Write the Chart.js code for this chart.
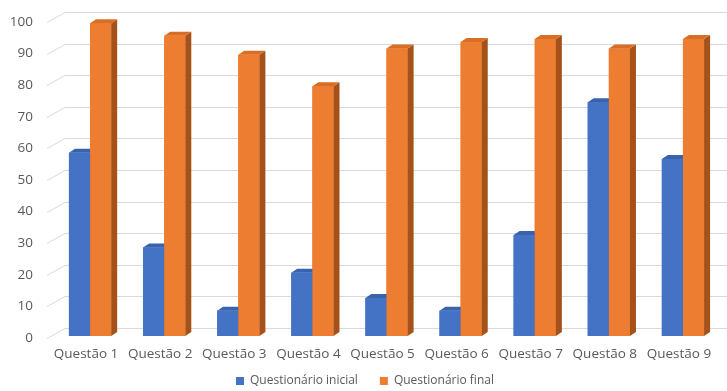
<!DOCTYPE html>
<html>
<head>
<meta charset="utf-8">
<script src="https://cdn.jsdelivr.net/npm/chart.js@4/dist/chart.umd.min.js"></script>
<style>
  html, body { margin: 0; padding: 0; background: #fff; }
  #wrap { width: 727px; height: 391px; }
</style>
</head>
<body>
<div id="wrap"><canvas id="chart" width="727" height="391"></canvas></div>
<script>
const categories = ["Questão 1", "Questão 2", "Questão 3", "Questão 4", "Questão 5", "Questão 6", "Questão 7", "Questão 8", "Questão 9"];
const inicial = [58, 28, 8, 20, 12, 8, 32, 74, 56];
const final = [99, 95, 89, 79, 91, 93, 94, 91, 94];
const seriesNames = ["Questionário inicial", "Questionário final"];

const FONT = "'Open Sans', sans-serif";
const TEXT = "#595959";

// shade colours for the fake 3D faces, by dataset index
const faces = [
  { side: "#2F5597", top: "#3A63AE" },
  { side: "#A4521A", top: "#D86E26" },
];

// back wall gridlines, offset up/right from the front scale
const backWall = {
  id: "backWall",
  beforeDatasetsDraw(chart) {
    const { ctx, chartArea: a, scales: { y } } = chart;
    ctx.save();
    ctx.strokeStyle = "#D9D9D9";
    ctx.lineWidth = 1;
    y.ticks.forEach((t) => {
      const py = Math.round(y.getPixelForValue(t.value)) + 0.5;
      ctx.beginPath();
      ctx.moveTo(a.left - 6, py + 2);
      ctx.lineTo(a.left + 12, py - 8);
      ctx.lineTo(chart.width, py - 8);
      ctx.stroke();
    });
    ctx.restore();
  },
};

// redraw bars left to right with side and top faces so the next bar covers the previous side
const bars3d = {
  id: "bars3d",
  afterDatasetsDraw(chart) {
    const { ctx } = chart;
    const dx = 6, dy = 4;
    const metas = chart.data.datasets.map((d, i) => chart.getDatasetMeta(i));
    ctx.save();
    categories.forEach((c, j) => {
      metas.forEach((meta, i) => {
        const b = meta.data[j];
        const f = faces[i];
        const l = b.x - b.width / 2, r = b.x + b.width / 2;
        b.draw(ctx);
        ctx.fillStyle = f.side;
        ctx.beginPath();
        ctx.moveTo(r, b.y);
        ctx.lineTo(r + dx, b.y - dy);
        ctx.lineTo(r + dx, b.base - dy);
        ctx.lineTo(r, b.base);
        ctx.closePath();
        ctx.fill();
        ctx.fillStyle = f.top;
        ctx.beginPath();
        ctx.moveTo(l, b.y);
        ctx.lineTo(l + dx, b.y - dy);
        ctx.lineTo(r + dx, b.y - dy);
        ctx.lineTo(r, b.y);
        ctx.closePath();
        ctx.fill();
      });
    });
    ctx.restore();
  },
};

new Chart(document.getElementById("chart"), {
  type: "bar",
  data: {
    labels: categories,
    datasets: [
      { label: seriesNames[0], data: inicial, backgroundColor: "#4472C4" },
      { label: seriesNames[1], data: final, backgroundColor: "#ED7D31" },
    ],
  },
  options: {
    responsive: false,
    animation: false,
    layout: { padding: { left: 10, right: 7, top: 20, bottom: -6 } },
    datasets: { bar: { barPercentage: 1, categoryPercentage: 0.57 } },
    scales: {
      x: {
        grid: { display: false, drawTicks: false },
        border: { display: false },
        ticks: { color: TEXT, font: { family: FONT, size: 13.5 }, padding: 10, labelOffset: -4, maxRotation: 0 },
        afterFit: (s) => { s.height = 29; },
      },
      y: {
        min: 0,
        max: 100,
        grid: { display: false, drawTicks: true, tickLength: 20 },
        border: { display: false },
        ticks: { stepSize: 10, color: TEXT, font: { family: FONT, size: 13.5 }, padding: 0, labelOffset: 2 },
        afterFit: (s) => { s.width = 43; },
      },
    },
    plugins: {
      legend: {
        position: "bottom",
        labels: {
          color: TEXT,
          font: { family: FONT, size: 12 },
          boxWidth: 8,
          boxHeight: 8,
          padding: 10,
          generateLabels: (chart) =>
            Chart.defaults.plugins.legend.labels.generateLabels(chart).map((it, i, all) =>
              i < all.length - 1 ? { ...it, text: it.text + "\u2002\u2002" } : it
            ),
        },
      },
      tooltip: { enabled: false },
    },
  },
  plugins: [backWall, bars3d],
});
</script>
</body>
</html>
